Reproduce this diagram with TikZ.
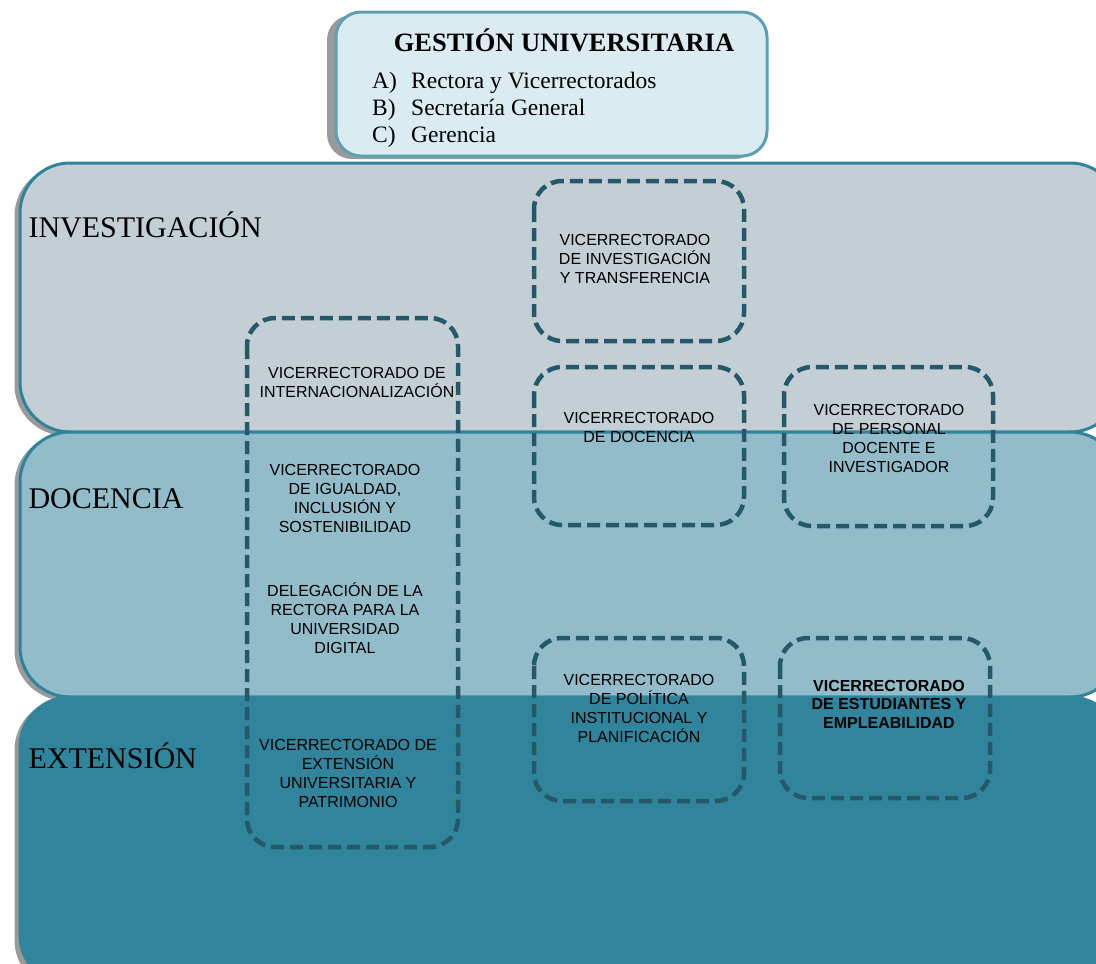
\documentclass[tikz,border=0pt]{standalone}
\usepackage{fontspec}
\setmainfont{Liberation Serif}
\newfontfamily\arial{Liberation Sans}
\definecolor{bandA}{HTML}{C3CFD4}
\definecolor{bandB}{HTML}{93BCCB}
\definecolor{bandC}{HTML}{30849B}
\definecolor{bandline}{HTML}{2F849B}
\definecolor{topfill}{HTML}{DAECF2}
\definecolor{topline}{HTML}{5DA0B5}
\definecolor{dashc}{HTML}{25596A}
\definecolor{shadowc}{HTML}{9A9A9A}
\tikzset{
  band/.style={draw=bandline, line width=3pt, rounded corners=50pt},
  bandshadow/.style={draw=shadowc, fill=shadowc, line width=1pt, rounded corners=50pt},
  vbox/.style={draw=dashc, line width=4.5pt, dash pattern=on 13pt off 6pt, rounded corners=28pt},
  vtext/.style={font=\arial\fontsize{16}{19}\selectfont, align=center, text=black},
  bandlabel/.style={font=\fontsize{30}{34}\selectfont, anchor=west, text=black},
}
\begin{document}
\begin{tikzpicture}[x=1pt,y=-1pt]
\useasboundingbox (0,0) rectangle (1096,964);
\clip (0,0) rectangle (1096,964);
% bands shadows
\fill[bandshadow] (15,166) rectangle (1114,435);
\fill[bandshadow] (15,435) rectangle (1114,700);
\fill[bandshadow] (15,700) rectangle (1114,990);
% bands
\draw[band, fill=bandA] (20,163) rectangle (1120,432);
\draw[band, fill=bandB] (20,432) rectangle (1120,697);
\draw[band, fill=bandC, draw=bandC] (20,697) rectangle (1120,985);
\node[bandlabel] (inv) at (25,225) {INVESTIGACIÓN};
\node[bandlabel] (doc) at (25,499) {DOCENCIA};
\node[bandlabel] (ext) at (25,756) {EXTENSIÓN};
% top box
\fill[shadowc, rounded corners=25pt] (327,15) rectangle (760,159);
\draw[draw=topline, fill=topfill, line width=3pt, rounded corners=25pt] (336,12) rectangle (767,156);
\node[font=\bfseries\fontsize{26.5}{30}\selectfont, anchor=center] (title) at (564,40) {GESTIÓN UNIVERSITARIA};
\node[font=\fontsize{23.5}{27}\selectfont, anchor=north west, align=left, inner sep=0pt] (list) at (372,72)
  {\makebox[39pt][l]{A)}Rectora y Vicerrectorados\\
   \makebox[39pt][l]{B)}Secretaría General\\
   \makebox[39pt][l]{C)}Gerencia};
% dashed boxes
\draw[vbox] (247,318) rectangle (458,847);
\draw[vbox] (534,181) rectangle (744,341);
\draw[vbox] (534,367) rectangle (744,525);
\draw[vbox] (784,367) rectangle (993,526);
\draw[vbox] (534,638) rectangle (744,801);
\draw[vbox] (780,638) rectangle (990,798);
% texts
\node[vtext] (vinv) at (635,259) {VICERRECTORADO\\DE INVESTIGACIÓN\\Y TRANSFERENCIA};
\node[vtext] (vint) at (357,382) {VICERRECTORADO DE\\INTERNACIONALIZACIÓN};
\node[vtext] (vigu) at (345,498) {VICERRECTORADO\\DE IGUALDAD,\\INCLUSIÓN Y\\SOSTENIBILIDAD};
\node[vtext] (vdel) at (345,618) {DELEGACIÓN DE LA\\RECTORA PARA LA\\UNIVERSIDAD\\DIGITAL};
\node[vtext] (vext) at (348,773) {VICERRECTORADO DE\\EXTENSIÓN\\UNIVERSITARIA Y\\PATRIMONIO};
\node[vtext] (vdoc) at (639,427) {VICERRECTORADO\\DE DOCENCIA};
\node[vtext] (vper) at (889,438) {VICERRECTORADO\\DE PERSONAL\\DOCENTE E\\INVESTIGADOR};
\node[vtext] (vpol) at (639,708) {VICERRECTORADO\\DE POLÍTICA\\INSTITUCIONAL Y\\PLANIFICACIÓN};
\node[vtext, font=\arial\bfseries\fontsize{16}{18.5}\selectfont] (vest) at (889,704) {VICERRECTORADO\\DE ESTUDIANTES Y\\EMPLEABILIDAD};
\end{tikzpicture}
\end{document}
